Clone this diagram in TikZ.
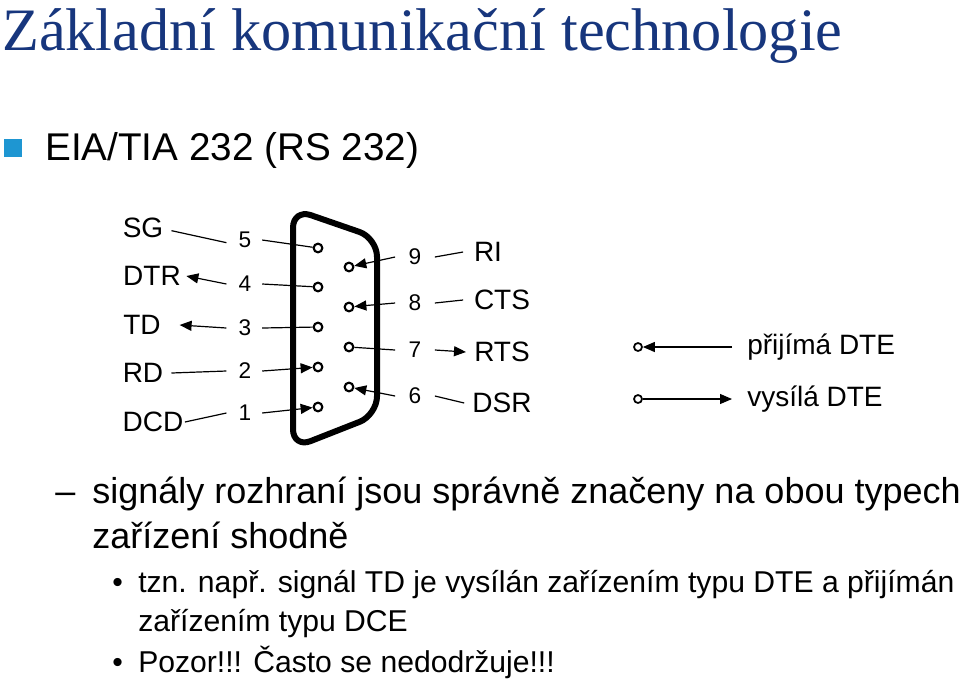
\documentclass[tikz,border=0pt]{standalone}
\usepackage{fontspec}
\setmainfont{Liberation Sans}
\newfontfamily\titlefont{Liberation Serif}
\usetikzlibrary{arrows.meta}
\definecolor{titleblue}{RGB}{23,54,125}
\definecolor{bulletblue}{RGB}{30,150,210}
\begin{document}
\begin{tikzpicture}[x=0.75pt,y=-0.75pt,
  lbl/.style={font=\fontsize{21}{24}\selectfont,inner sep=0pt},
  num/.style={font=\fontsize{17}{19}\selectfont,inner sep=0pt},
  pin/.style={circle,draw,line width=1.6pt,minimum size=6.5pt,inner sep=0pt},
  wire/.style={line width=0.9pt},
  arr/.style={wire,-{Triangle[length=9pt,width=7.5pt]}},
  body/.style={font=\fontsize{27}{31}\selectfont,anchor=base west,inner sep=0pt},
  sub/.style={font=\fontsize{22.6}{26}\selectfont,anchor=base west,inner sep=0pt}]
\useasboundingbox (0,0) rectangle (960,683);
% title
\node[anchor=base west,inner sep=0pt,text=titleblue,font=\titlefont\fontsize{45.2}{48}\selectfont] (title) at (2,50) {Základní komunikační technologie};
\node[fill=bulletblue,minimum size=13pt,inner sep=0pt] (sq) at (13,148) {};
\node[anchor=base west,inner sep=0pt,font=\fontsize{29}{33}\selectfont] (eia) at (45,160) {EIA/TIA 232 (RS 232)};
% connector body
\draw[line width=4.5pt,rounded corners=14pt] (293,209) -- (377,238) -- (377,415) -- (293,448) -- cycle;
% pins
\foreach \n/\y in {5/248,4/287,3/327,2/367,1/407} \node[pin] (p\n) at (318,\y) {};
\foreach \n/\y in {9/267,8/307,7/347,6/387} \node[pin] (p\n) at (349,\y) {};
% numbers
\foreach \n/\y in {5/240,4/284,3/328,2/371,1/413} \node[num] (n\n) at (245,\y) {\n};
\foreach \n/\y in {9/257,8/303,7/350,6/396} \node[num] (n\n) at (415,\y) {\n};
% names
\node[lbl] (SG) at (143,228) {SG};
\node[lbl] (DTR) at (152,276) {DTR};
\node[lbl] (TD) at (142,325) {TD};
\node[lbl] (RD) at (143,373) {RD};
\node[lbl] (DCD) at (153,422) {DCD};
\node[lbl] (RI) at (488,252) {RI};
\node[lbl] (CTS) at (502,300) {CTS};
\node[lbl] (RTS) at (502,352) {RTS};
\node[lbl] (DSR) at (502,403) {DSR};
% wires left
\draw[wire] ([xshift=6pt,yshift=-2pt]SG.east) -- ([xshift=-9pt,yshift=-2pt]n5.west);
\draw[wire] ([xshift=8pt]n5.east) -- (p5);
\draw[arr] ([xshift=-9pt]n4.west) -- ([xshift=4pt]DTR.east);
\draw[wire] ([xshift=8pt]n4.east) -- (p4);
\draw[arr] ([xshift=-9pt]n3.west) -- ([xshift=14pt]TD.east);
\draw[wire] ([xshift=8pt]n3.east) -- (p3);
\draw[wire] ([xshift=6pt]RD.east) -- ([xshift=-9pt]n2.west);
\draw[arr] ([xshift=8pt]n2.east) -- (p2);
\draw[wire] ([xshift=1pt]DCD.east) -- ([xshift=-9pt]n1.west);
\draw[arr] ([xshift=8pt]n1.east) -- (p1);
% wires right
\draw[arr] ([xshift=-10pt]n9.west) -- (p9);
\draw[wire] ([xshift=10pt]n9.east) -- ([xshift=-8pt]RI.west);
\draw[arr] ([xshift=-10pt]n8.west) -- (p8);
\draw[wire] ([xshift=10pt]n8.east) -- ([xshift=-8pt]CTS.west);
\draw[wire] (p7) -- ([xshift=-10pt]n7.west);
\draw[arr] ([xshift=10pt]n7.east) -- ([xshift=-6pt]RTS.west);
\draw[arr] ([xshift=-10pt]n6.west) -- (p6);
\draw[wire] ([xshift=10pt]n6.east) -- ([xshift=-6pt]DSR.west);
% legend
\node[pin,minimum size=6pt,line width=1.3pt] (lc1) at (638,347) {};
\node[pin,minimum size=6pt,line width=1.3pt] (lc2) at (638,399) {};
\coordinate (le1) at (732,347);
\coordinate (le2) at (732,399);
\draw[arr] (le1) -- (lc1);
\draw[arr] (lc2) -- (le2);
\node[lbl,anchor=west] (L1) at (747,347) {přijímá DTE};
\node[lbl,anchor=west] (L2) at (747,399) {vysílá DTE};
% text
\node[body] (dash) at (55,503) {–};
\node[body] (t1) at (92,503) {signály rozhraní jsou správně značeny na obou typech};
\node[body] (t2) at (92,548) {zařízení shodně};
\node[sub] (b1) at (112,592) {•};
\node[sub] (t3) at (138,592) {tzn. např. signál TD je vysílán zařízením typu DTE a přijímán};
\node[sub] (t4) at (138,631) {zařízením typu DCE};
\node[sub] (b2) at (112,672) {•};
\node[sub] (t5) at (138,672) {Pozor!!! Často se nedodržuje!!!};
\end{tikzpicture}
\end{document}
